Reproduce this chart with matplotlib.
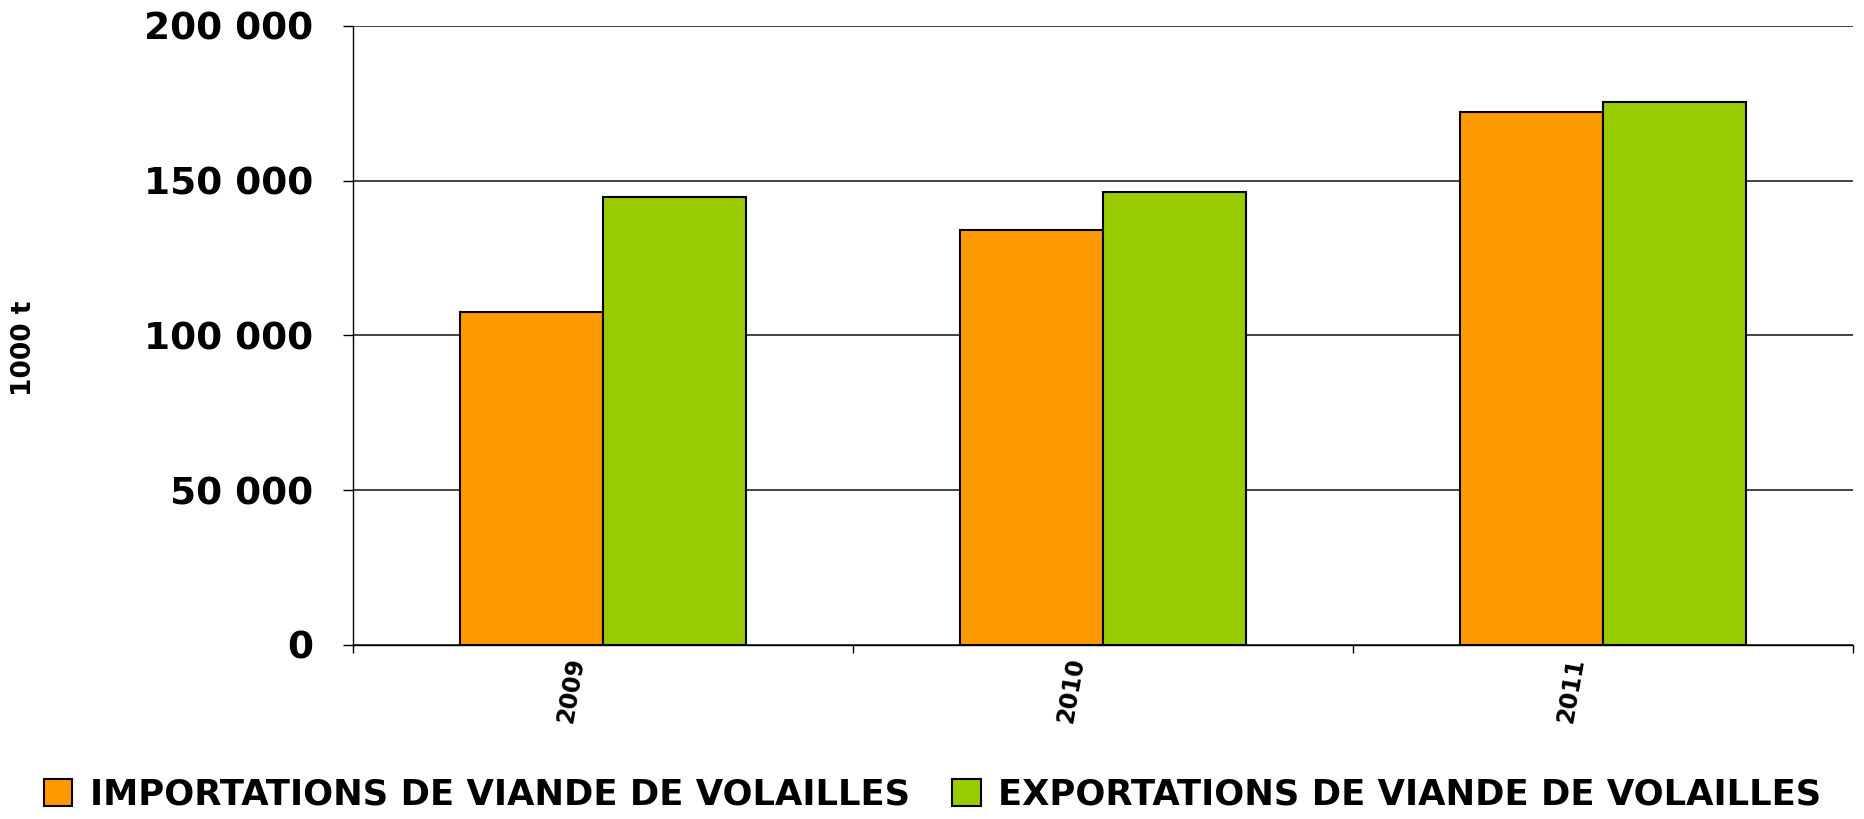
import matplotlib
matplotlib.use("Agg")
import matplotlib.pyplot as plt
import matplotlib.transforms as mtransforms
import numpy as np
from matplotlib.ticker import FuncFormatter, FixedLocator

# Data (1000 t)
years = ["2009", "2010", "2011"]
imports = [107600, 134100, 172100]
exports = [144700, 146500, 175300]
series_labels = [
    "IMPORTATIONS DE VIANDE DE VOLAILLES",
    "EXPORTATIONS DE VIANDE DE VOLAILLES",
]
colors = ["#FF9900", "#99CC00"]

fig = plt.figure(figsize=(18.65, 8.19), dpi=100)
ax = fig.add_axes([0.1893, 0.2125, 0.8043, 0.7558])

x = np.arange(len(years))
width = 1 / 3.5
ax.bar(x - width / 2, imports, width, color=colors[0], edgecolor="black",
       linewidth=1.5, label=series_labels[0], zorder=3)
ax.bar(x + width / 2, exports, width, color=colors[1], edgecolor="black",
       linewidth=1.5, label=series_labels[1], zorder=3)

ax.set_xlim(-0.5, len(years) - 0.5)
ax.set_ylim(0, 200000)
ax.set_yticks(np.arange(0, 200001, 50000))
ax.yaxis.set_major_formatter(FuncFormatter(lambda v, p: f"{int(v):,}".replace(",", " ")))
ax.grid(axis="y", color="#111111", linewidth=1.1, zorder=0)

# category boundaries carry the ticks, labels sit in the middle
ax.xaxis.set_major_locator(FixedLocator(np.arange(-0.5, len(years), 1.0)))
ax.set_xticklabels([])
ax.xaxis.set_minor_locator(FixedLocator(x))
ax.set_xticklabels(years, minor=True, rotation=80, fontsize=17,
                   fontweight="heavy", ha="center", va="top")
ax.tick_params(axis="x", which="minor", length=0, pad=8)
ax.tick_params(axis="x", which="major", length=6, direction="out", width=1)
offset = mtransforms.ScaledTranslation(-0.32, 0, fig.dpi_scale_trans)
for lbl in ax.get_xticklabels(minor=True):
    lbl.set_transform(lbl.get_transform() + offset)

ax.tick_params(axis="y", length=7, direction="out", width=1, pad=22,
               labelsize=27)
for lbl in ax.get_yticklabels():
    lbl.set_fontweight("heavy")

for side in ["top", "right"]:
    ax.spines[side].set_visible(False)
ax.spines["left"].set_linewidth(1.0)
ax.spines["bottom"].set_linewidth(1.0)

fig.text(0.013, 0.575, "1000 t", rotation=90, fontsize=19,
         fontweight="heavy", ha="center", va="center")

leg = fig.legend(loc="lower center", bbox_to_anchor=(0.5, -0.03), ncol=2,
                 frameon=False, handlelength=0.8, handleheight=0.8,
                 handletextpad=0.5, columnspacing=1.2,
                 prop={"weight": "heavy", "size": 25.5})

fig.savefig("out.png", dpi=100)
